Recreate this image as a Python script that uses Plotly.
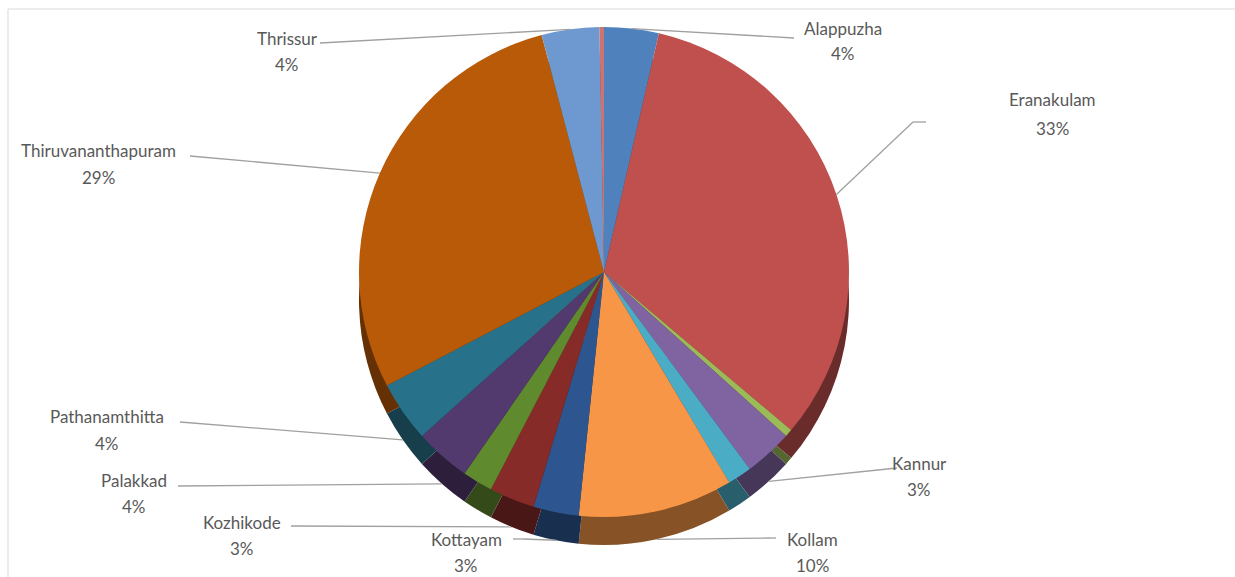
import math
import plotly.graph_objects as go

# ---- data ----
districts = ["Alappuzha", "Eranakulam", "Idukki", "Kannur", "Kasaragod", "Kollam",
             "Kottayam", "Kozhikode", "Malappuram", "Palakkad", "Pathanamthitta",
             "Thiruvananthapuram", "Thrissur", "Wayanad"]
shares = [3.6, 32.6, 0.5, 3.2, 1.6, 10.2, 3.0, 3.0, 2.0, 3.7, 4.0, 28.6, 3.8, 0.3]
labeled = ["Alappuzha", "Eranakulam", "Kannur", "Kollam", "Kottayam", "Kozhikode",
           "Palakkad", "Pathanamthitta", "Thiruvananthapuram", "Thrissur"]

# ---- style ----
top_colors = ["#4F81BD", "#C0504D", "#9BBB59", "#8064A2", "#4BACC6", "#F79646",
              "#2D5690", "#862B28", "#5F8A2E", "#52396E", "#28718A", "#B85A08",
              "#6E99D0", "#CD7371"]


def darken(hex_color, f=0.55):
    h = hex_color.lstrip("#")
    r, g, b = (int(h[i:i + 2], 16) for i in (0, 2, 4))
    return "#%02X%02X%02X" % (int(r * f), int(g * f), int(b * f))


side_colors = [darken(c) for c in top_colors]

W, H = 1235, 577
cx, cy, R, D = 604, 272, 245, 28  # pie centre / radius / depth in px

# label placement (layout): name centre x, name y, pct y, line attach point, elbow
label_pos = {
    "Alappuzha":          dict(x=843, y1=28, y2=54, ax=794, ay=38, ex=None),
    "Eranakulam":         dict(x=1052, y1=100, y2=128, ax=926, ay=122, ex=913),
    "Kannur":             dict(x=919, y1=463, y2=489, ax=897, ay=468, ex=None),
    "Kollam":             dict(x=812, y1=539, y2=565, ax=776, ay=538, ex=770),
    "Kottayam":           dict(x=466, y1=539, y2=565, ax=513, ay=539, ex=523),
    "Kozhikode":          dict(x=242, y1=522, y2=548, ax=291, ay=526, ex=None),
    "Palakkad":           dict(x=134, y1=480, y2=506, ax=178, ay=486, ex=None),
    "Pathanamthitta":     dict(x=107, y1=416, y2=443, ax=180, ay=422, ex=None),
    "Thiruvananthapuram": dict(x=98, y1=150, y2=177, ax=190, ay=156, ex=None),
    "Thrissur":           dict(x=287, y1=38, y2=65, ax=320, ay=43, ex=None),
}

fig = go.Figure()

# side (depth) of the pie
fig.add_trace(go.Pie(
    labels=districts, values=shares, sort=False, direction="clockwise", rotation=0,
    marker=dict(colors=side_colors, line=dict(width=0)), textinfo="none",
    hoverinfo="skip", showlegend=False,
    domain=dict(x=[(cx - R) / W, (cx + R) / W],
                y=[(H - cy - D - R) / H, (H - cy - D + R) / H]),
))
# top face
fig.add_trace(go.Pie(
    labels=districts, values=shares, sort=False, direction="clockwise", rotation=0,
    marker=dict(colors=top_colors, line=dict(width=0)), textinfo="none",
    hovertemplate="%{label}: %{percent}<extra></extra>", showlegend=False,
    domain=dict(x=[(cx - R) / W, (cx + R) / W],
                y=[(H - cy - R) / H, (H - cy + R) / H]),
))

total = sum(shares)
cum = 0.0
shapes = []
annotations = []
font = dict(family="Lato, Carlito, sans-serif", size=17, color="#595959")


def px(x):
    return x / W


def py(y):
    return 1 - y / H


for name, v in zip(districts, shares):
    mid = (cum + v / 2) / total * 2 * math.pi
    cum += v
    if name not in labeled:
        continue
    p = label_pos[name]
    sx = cx + R * math.sin(mid)
    sy = cy - R * math.cos(mid)
    if math.cos(mid) < 0:
        sy += D
    pts = [(p["ax"], p["ay"])]
    if p["ex"] is not None:
        pts.append((p["ex"], p["ay"]))
    pts.append((sx, sy))
    for (x0, y0), (x1, y1) in zip(pts[:-1], pts[1:]):
        shapes.append(dict(type="line", xref="paper", yref="paper",
                           x0=px(x0), y0=py(y0), x1=px(x1), y1=py(y1),
                           line=dict(color="#A0A0A0", width=1.3)))
    pct = "%d%%" % round(v / total * 100)
    annotations.append(dict(x=px(p["x"]), y=py(p["y1"]), xref="paper", yref="paper",
                            text=name, showarrow=False, font=font,
                            xanchor="center", yanchor="middle"))
    annotations.append(dict(x=px(p["x"]), y=py(p["y2"]), xref="paper", yref="paper",
                            text=pct, showarrow=False, font=font,
                            xanchor="center", yanchor="middle"))

# chart area border (top and left edges visible)
shapes.append(dict(type="line", xref="paper", yref="paper", x0=px(8), y0=py(9),
                   x1=1, y1=py(9), line=dict(color="#D9D9D9", width=1)))
shapes.append(dict(type="line", xref="paper", yref="paper", x0=px(8), y0=py(9),
                   x1=px(8), y1=0, line=dict(color="#D9D9D9", width=1)))

fig.update_layout(
    width=W, height=H, margin=dict(l=0, r=0, t=0, b=0),
    paper_bgcolor="white", plot_bgcolor="white",
    shapes=shapes, annotations=annotations,
)

fig.write_html("out.html")
